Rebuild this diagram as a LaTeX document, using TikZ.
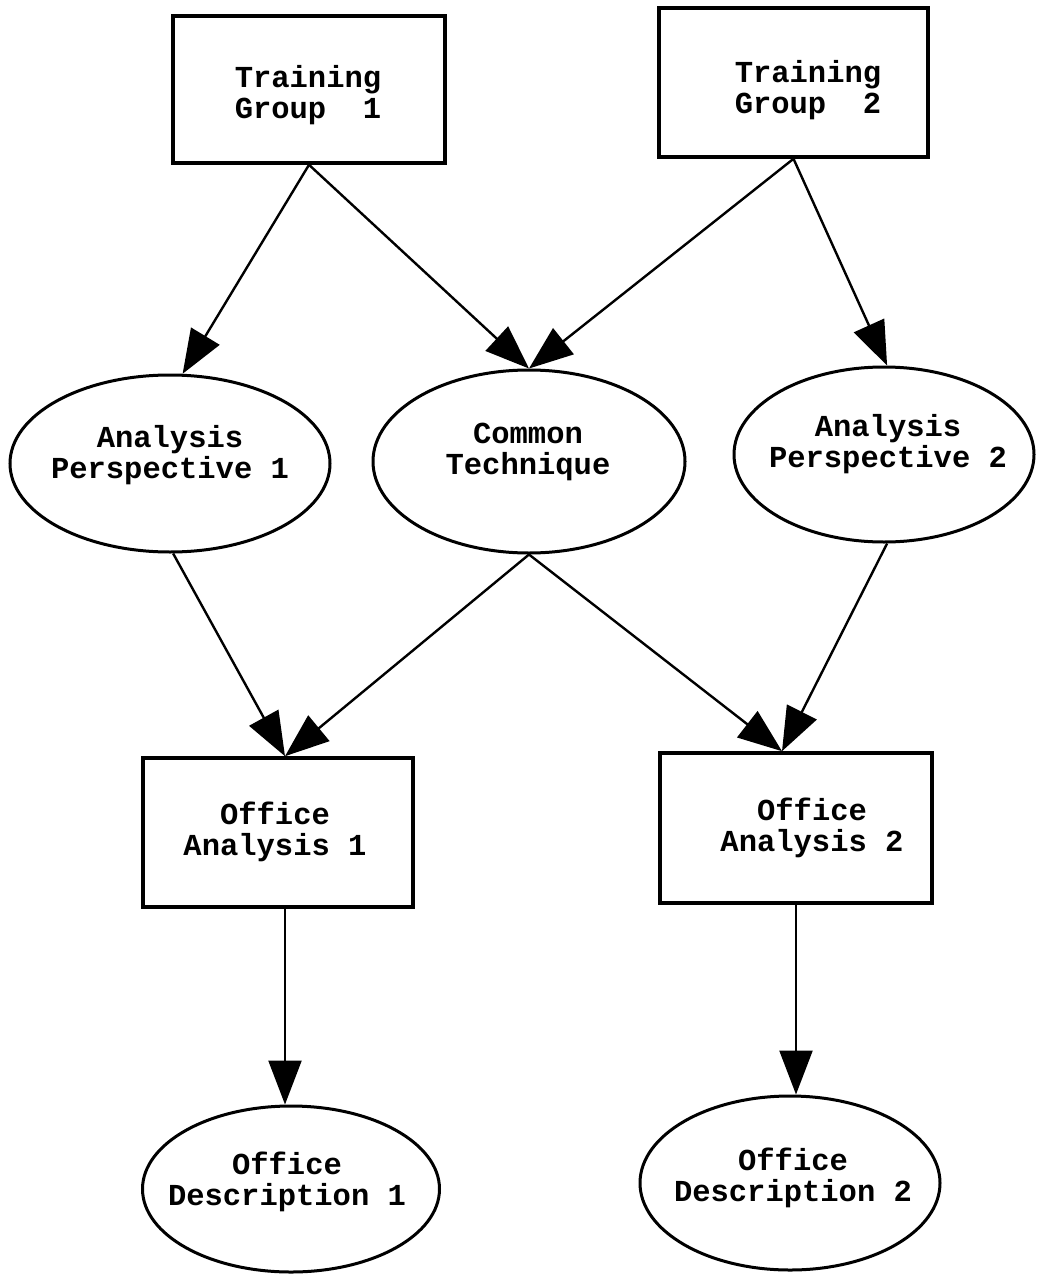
\documentclass[tikz,border=0pt]{standalone}
\usepackage{fontspec}
\setmonofont{Liberation Mono}
\usetikzlibrary{shapes.geometric,arrows.meta}
\begin{document}
\begin{tikzpicture}[x=1pt,y=-1pt,
  boxnode/.style={draw, line width=3.6pt, rectangle, inner sep=0pt},
  ovalnode/.style={draw, line width=3pt, ellipse, inner sep=0pt},
  txt/.style={align=center, inner sep=0pt, font=\ttfamily\bfseries\fontsize{30.5}{31}\selectfont},
  conn/.style={line width=2.4pt, -{Triangle[length=44pt,width=33pt]}}]
\useasboundingbox (0,0) rectangle (1037,1281);
\fill[white] (0,0) rectangle (1037,1281);
% shapes
\node[boxnode, minimum width=272pt, minimum height=147pt] (tg1) at (309,89.5) {};
\node[boxnode, minimum width=269pt, minimum height=149pt] (tg2) at (793.5,82.5) {};
\node[ovalnode, minimum width=320pt, minimum height=177pt] (ap1) at (170,463.5) {};
\node[ovalnode, minimum width=312pt, minimum height=183pt] (ct) at (529,461.5) {};
\node[ovalnode, minimum width=300pt, minimum height=175pt] (ap2) at (884,454.5) {};
\node[boxnode, minimum width=270pt, minimum height=149pt] (oa1) at (278,832.5) {};
\node[boxnode, minimum width=272pt, minimum height=150pt] (oa2) at (796,828) {};
\node[ovalnode, minimum width=297pt, minimum height=166pt] (od1) at (291,1189) {};
\node[ovalnode, minimum width=300pt, minimum height=174pt] (od2) at (790,1183) {};
% texts
\node[txt] (tg1t) at (308,95) {Training\\Group~~1};
\node[txt] (tg2t) at (808,90) {Training\\Group~~2};
\node[txt] (ap1t) at (170,455) {Analysis\\Perspective 1};
\node[txt] (ctt) at (528,452) {Common\\Technique};
\node[txt] (ap2t) at (888,444) {Analysis\\Perspective 2};
\node[txt] (oa1t) at (275,832) {Office\\Analysis 1};
\node[txt] (oa2t) at (812,828) {Office\\Analysis 2};
\node[txt] (od1t) at (287,1182) {Office\\Description 1};
\node[txt] (od2t) at (793,1178) {Office\\Description 2};
% connectors
\draw[conn] (tg1.south) -- (ap1.82);
\draw[conn] (tg1.south) -- (ct.north);
\draw[conn] (tg2.south) -- (ct.north);
\draw[conn] (tg2.south) -- (ap2.88);
\draw[conn] (ap1.-88) -- ([xshift=7pt]oa1.north);
\draw[conn] (ct.south) -- ([xshift=7pt]oa1.north);
\draw[conn] (ct.south) -- ([xshift=-14pt]oa2.north);
\draw[conn] (ap2.-88) -- ([xshift=-14pt]oa2.north);
\draw[conn] ([xshift=7pt]oa1.south) -- ([xshift=7pt]oa1.south |- od1.north);
\draw[conn] (oa2.south) -- (oa2.south |- od2.north);
\end{tikzpicture}
\end{document}
